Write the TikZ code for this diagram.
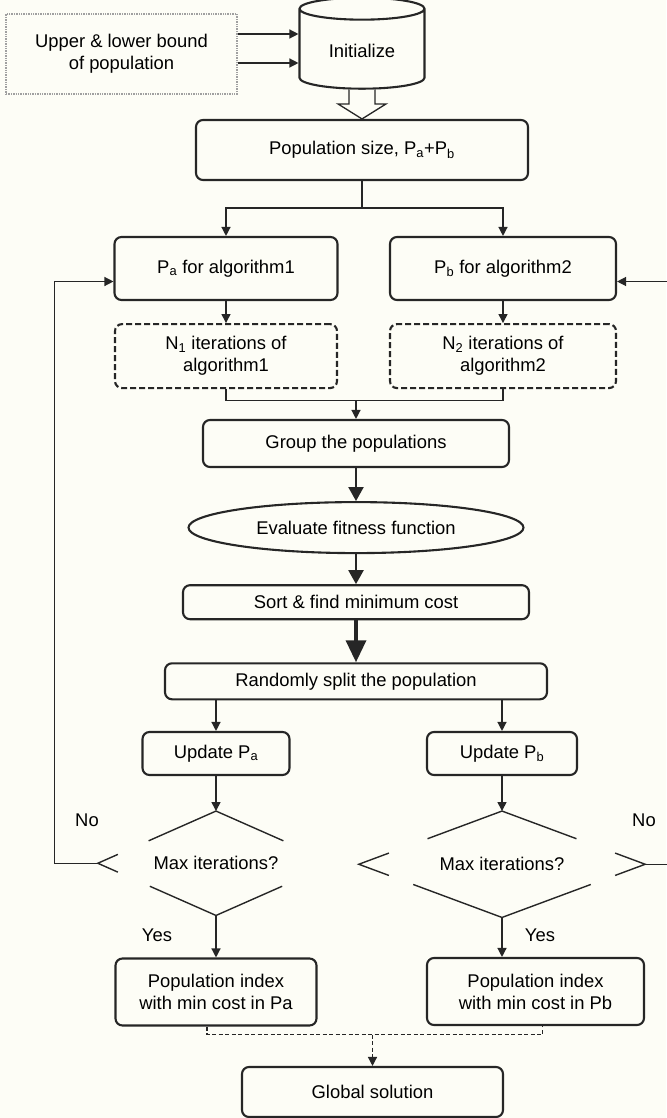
\documentclass[tikz,border=0pt]{standalone}
\usepackage{fontspec}
\setmainfont{Liberation Sans}
\usetikzlibrary{arrows.meta,positioning,shapes.geometric,calc}
\definecolor{paper}{HTML}{FDFDF6}
\definecolor{edge}{HTML}{262626}
\definecolor{dotgray}{HTML}{A0A0A0}

\tikzset{
  box/.style={draw=edge,line width=2.1pt,rounded corners=7pt,align=center,inner sep=0pt},
  dashbox/.style={box,dash pattern=on 6pt off 3pt},
  dotbox/.style={draw=dotgray,densely dotted,line width=1.4pt,align=center,inner sep=0pt},
  oval/.style={ellipse,draw=edge,line width=2.1pt,inner sep=0pt},
  cyl/.style={cylinder,shape border rotate=90,draw=edge,line width=2.1pt,aspect=0.3},
  decision/.style={diamond,aspect=2.3,inner sep=0pt,align=center},
  diaedge/.style={draw=edge,line width=1.4pt},
  line/.style={draw=edge,line width=1.3pt},
  arr/.style={line,-{Triangle[length=9pt,width=9pt]}},
  arrmid/.style={draw=edge,line width=2.2pt,-{Triangle[length=14pt,width=15pt]}},
  arrbig/.style={draw=edge,line width=3.5pt,-{Triangle[length=22pt,width=20pt]}},
  dashline/.style={line,dash pattern=on 4pt off 2.5pt},
  dasharr/.style={arr,dash pattern=on 4pt off 2.5pt}
}

\begin{document}
\begin{tikzpicture}[x=1pt,y=-1pt,font=\fontsize{18.4}{22}\selectfont]
  \path[use as bounding box,fill=paper] (0,0) rectangle (666,1118);

  % input and start
  \node[dotbox,minimum width=231pt,minimum height=80pt] (bounds) at (121.5,54) {Upper \& lower bound\\of population};
  \node[cyl,minimum width=125pt,minimum height=91pt] (init) at (362,51) {Initialize};
  \node[box,minimum width=332pt,minimum height=60pt] (popsize) at (362,150) {Population size, P\textsubscript{a}+P\textsubscript{b}};

  % two sub-populations
  \node[box,minimum width=223pt,minimum height=63pt] (pa) at (226,268.5) {P\textsubscript{a} for algorithm1};
  \node[box,minimum width=226pt,minimum height=63pt] (pb) at (503,268.5) {P\textsubscript{b} for algorithm2};
  \node[dashbox,minimum width=222pt,minimum height=64pt,below=22pt of pa] (n1) {N\textsubscript{1} iterations of\\algorithm1};
  \node[dashbox,minimum width=226pt,minimum height=64pt,below=22pt of pb] (n2) {N\textsubscript{2} iterations of\\algorithm2};

  % common part
  \node[box,minimum width=306pt,minimum height=47pt] (group) at (356,443.5) {Group the populations};
  \node[oval,minimum width=335pt,minimum height=51pt,below=33pt of group] (eval) {Evaluate fitness function};
  \node[box,minimum width=346pt,minimum height=34pt,below=30pt of eval] (sort) {Sort \& find minimum cost};
  \node[box,minimum width=382pt,minimum height=36pt,below=42pt of sort] (rand) {Randomly split the population};

  % update and test
  \node[box,minimum width=147pt,minimum height=43pt] (upa) at (216,753.5) {Update P\textsubscript{a}};
  \node[box,minimum width=150pt,minimum height=43pt] (upb) at (502,753.5) {Update P\textsubscript{b}};
  \node[decision,minimum width=236pt,minimum height=104pt,below=35pt of upa] (dia1) {Max iterations?};
  \node[decision,minimum width=286pt,minimum height=106pt,below=35pt of upb] (dia2) {Max iterations?};
  \node (no1) at (87,820) {No};
  \node (no2) at (644,820) {No};
  \node (yes1) at (157,935) {Yes};
  \node (yes2) at (540,935) {Yes};

  % results
  \node[box,minimum width=201pt,minimum height=67pt,below=42pt of dia1] (idx1) {Population index\\with min cost in Pa};
  \node[box,minimum width=217pt,minimum height=67pt] (idx2) at (535.5,991.5) {Population index\\with min cost in Pb};
  \node[box,minimum width=261pt,minimum height=50pt] (global) at (372.5,1092) {Global solution};

  % broken diamond outlines
  \foreach \dn/\tf/\sf/\bf in {dia1/0.57/0.17/0.56, dia2/0.52/0.21/0.62} {
    \draw[diaedge] ($(\dn.north)!\tf!(\dn.west)$) -- (\dn.north) -- ($(\dn.north)!\tf!(\dn.east)$);
    \draw[diaedge] ($(\dn.south)!\bf!(\dn.west)$) -- (\dn.south) -- ($(\dn.south)!\bf!(\dn.east)$);
    \draw[diaedge] ($(\dn.west)!\sf!(\dn.north)$) -- (\dn.west) -- ($(\dn.west)!\sf!(\dn.south)$);
  }
  \draw[diaedge] ($(dia2.east)!0.21!(dia2.north)$) -- (dia2.east) -- ($(dia2.east)!0.21!(dia2.south)$);

  % connectors
  \draw[arr] ([yshift=20pt]bounds.east) -- ([yshift=20pt]bounds.east -| init.west);
  \draw[arr] ([yshift=-9pt]bounds.east) -- ([yshift=-9pt]bounds.east -| init.west);
  \draw[line,fill=paper] ($(init.south)+(-13pt,0)$) -- ($(popsize.north)+(-13pt,15pt)$)
    -- ($(popsize.north)+(-24pt,15pt)$) -- (popsize.north) -- ($(popsize.north)+(24pt,15pt)$)
    -- ($(popsize.north)+(13pt,15pt)$) -- ($(init.south)+(13pt,0)$);
  \draw[arr] (popsize.south) -- ++(0,-27pt) -| (pa.north);
  \draw[arr] (popsize.south) -- ++(0,-27pt) -| (pb.north);
  \draw[arr] (pa) -- (n1);
  \draw[arr] (pb) -- (n2);
  \draw[line] (n1.south) -- ++(0,-11pt) coordinate (merge) -| (n2.south);
  \draw[arr] (merge -| group.north) -- (group.north);
  \draw[arrmid] (group) -- (eval);
  \draw[arrmid] (eval) -- (sort);
  \draw[arrbig] (sort) -- (rand);
  \draw[arr] (rand.south -| upa.north) -- (upa.north);
  \draw[arr] (rand.south -| upb.north) -- (upb.north);
  \draw[arr] (upa) -- (dia1);
  \draw[arr] (upb) -- (dia2);
  \draw[arr] (dia1.west) -- ++(-43pt,0) |- ([yshift=-13pt]pa.west);
  \draw[arr] (dia2.east) -- ++(31pt,0) |- ([yshift=-13pt]pb.east);
  \draw[arr] (dia1) -- (idx1);
  \draw[arr] (dia2.south) -- (dia2.south |- idx2.north);
  \draw[dashline] ([xshift=-9pt]idx1.south) -- ++(0,-8pt) coordinate (join) -| ([xshift=7pt]idx2.south);
  \draw[dasharr] (join -| global.north) -- (global.north);
\end{tikzpicture}
\end{document}
